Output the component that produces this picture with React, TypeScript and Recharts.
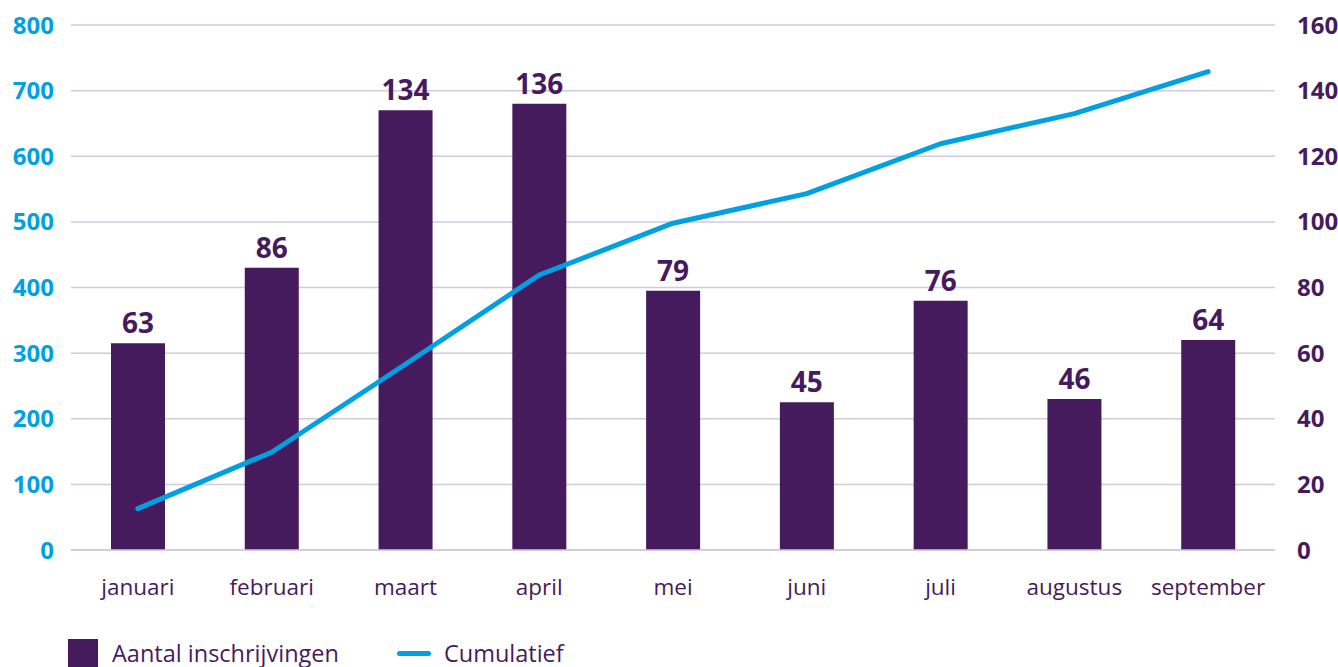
import React from "react"
import {
  ComposedChart,
  Bar,
  Line,
  XAxis,
  YAxis,
  CartesianGrid,
  LabelList,
} from "recharts"

const months = ["januari", "februari", "maart", "april", "mei", "juni", "juli", "augustus", "september"]
const inschrijvingen = [63, 86, 134, 136, 79, 45, 76, 46, 64]
const cumulatief = [63, 149, 283, 419, 498, 543, 619, 665, 729]
const leftTicks = [0, 100, 200, 300, 400, 500, 600, 700, 800]
const rightTicks = [0, 20, 40, 60, 80, 100, 120, 140, 160]

const PURPLE = "#461b5d"
const BLUE = "#00a0e2"
const GRID = "#d2c8df"
const FONT = "'Open Sans', sans-serif"

const data = months.map((m, i) => ({
  month: m,
  aantal: inschrijvingen[i],
  cumulatief: cumulatief[i],
}))

export default function App() {
  return (
    <div style={{ position: "absolute", left: 0, top: 0, width: 1338, height: 667, fontFamily: FONT, overflow: "hidden" }}>
      <ComposedChart
        width={1338}
        height={667}
        data={data}
        margin={{ top: 25, right: 0, bottom: 57, left: 0 }}
      >
        <CartesianGrid yAxisId="left" vertical={false} stroke={GRID} strokeWidth={1.5} />
        <XAxis
          dataKey="month"
          height={60}
          tickLine={false}
          tickSize={0}
          tickMargin={29}
          axisLine={{ stroke: GRID, strokeWidth: 1.5 }}
          tick={{ fill: PURPLE, fontSize: 22.5, fontFamily: FONT }}
          interval={0}
        />
        <YAxis
          yAxisId="left"
          orientation="left"
          width={71}
          domain={[0, 800]}
          ticks={leftTicks}
          axisLine={false}
          tickLine={false}
          tickSize={0}
          tickMargin={17}
          tick={{ fill: BLUE, fontSize: 24, fontWeight: 700, fontFamily: FONT }}
        />
        <YAxis
          yAxisId="right"
          orientation="right"
          width={63}
          domain={[0, 160]}
          ticks={rightTicks}
          axisLine={false}
          tickLine={false}
          tickSize={0}
          tickMargin={22}
          tick={{ fill: PURPLE, fontSize: 24, fontWeight: 700, fontFamily: FONT, textAnchor: "start" }}
        />
        <Bar yAxisId="right" dataKey="aantal" fill={PURPLE} barSize={54} isAnimationActive={false}>
          <LabelList
            dataKey="aantal"
            position="top"
            offset={10}
            fill={PURPLE}
            fontSize={28}
            fontWeight={700}
            fontFamily={FONT}
          />
        </Bar>
        <Line
          yAxisId="left"
          type="linear"
          dataKey="cumulatief"
          stroke={BLUE}
          strokeWidth={5}
          strokeLinecap="round"
          strokeLinejoin="round"
          dot={false}
          activeDot={false}
          isAnimationActive={false}
        />
      </ComposedChart>
      <div style={{ position: "absolute", left: 68, top: 639, display: "flex", alignItems: "center", color: PURPLE, fontSize: 23.5, lineHeight: "28px" }}>
        <span style={{ display: "inline-block", width: 30, height: 28, background: PURPLE, marginRight: 14 }} />
        <span>Aantal inschrijvingen</span>
        <span style={{ display: "inline-block", width: 34, height: 5, borderRadius: 3, background: BLUE, marginLeft: 58, marginRight: 13 }} />
        <span>Cumulatief</span>
      </div>
    </div>
  )
}
